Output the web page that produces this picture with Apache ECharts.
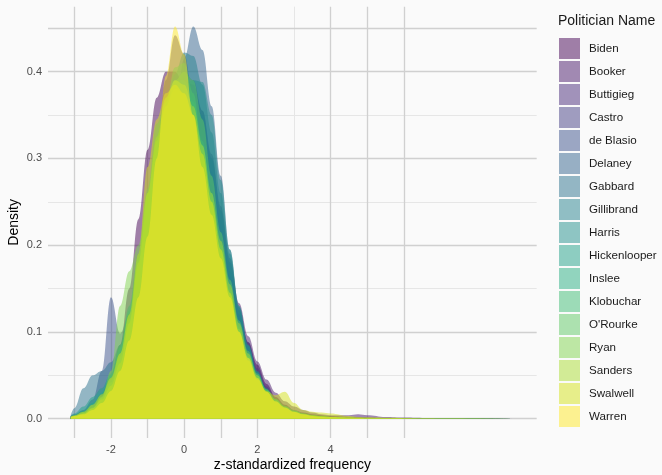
<!DOCTYPE html>
<html>
<head>
<meta charset="utf-8">
<script src="https://cdn.jsdelivr.net/npm/echarts@6/dist/echarts.min.js"></script>
<style>
html,body{margin:0;padding:0;background:#fafafa;}
#chart{width:662px;height:475px;}
</style>
</head>
<body>
<div id="chart"></div>
<script>
// Shared x positions (z-standardized frequency)
const xs = [-3.1, -3.0, -2.75, -2.5, -2.25, -2.0, -1.75, -1.5, -1.25, -1.0, -0.75, -0.5, -0.25, 0.0, 0.25, 0.5, 0.75, 1.0, 1.25, 1.5, 1.75, 2.0, 2.25, 2.5, 2.75, 3.0, 3.25, 3.5, 3.75, 4.0, 4.5, 4.75, 5.0, 5.5, 6.0, 6.5, 7.0, 8.0, 9.0];

const politicians = ["Biden", "Booker", "Buttigieg", "Castro", "de Blasio", "Delaney", "Gabbard", "Gillibrand", "Harris", "Hickenlooper", "Inslee", "Klobuchar", "O'Rourke", "Ryan", "Sanders", "Swalwell", "Warren"];

const colors = ["#440154", "#481769", "#472A7A", "#433D84", "#3B528B", "#33638D", "#2C728E", "#26828E", "#21908C", "#1F9F88", "#27AD81", "#3DBC74", "#5DC863", "#80D34D", "#AADC32", "#D4E21A", "#FDE725"];

// Density values per politician, aligned with xs
const biden      = [0.003, 0.004, 0.008, 0.015, 0.028, 0.050, 0.085, 0.150, 0.230, 0.310, 0.370, 0.400, 0.400, 0.385, 0.360, 0.320, 0.270, 0.215, 0.165, 0.120, 0.088, 0.062, 0.040, 0.025, 0.016, 0.010, 0.007, 0.005, 0.004, 0.003, 0.002, 0.0015, 0.001, 0.0006, 0.0004, 0.0003, 0.0002, 0.0001, 0.0001];
const booker     = [0.002, 0.003, 0.006, 0.012, 0.022, 0.040, 0.068, 0.110, 0.165, 0.230, 0.295, 0.345, 0.375, 0.390, 0.385, 0.355, 0.305, 0.245, 0.185, 0.133, 0.095, 0.066, 0.045, 0.030, 0.020, 0.014, 0.010, 0.007, 0.005, 0.004, 0.004, 0.005, 0.004, 0.002, 0.0012, 0.0008, 0.0006, 0.0005, 0.0004];
const buttigieg  = [0.002, 0.003, 0.005, 0.010, 0.018, 0.032, 0.055, 0.095, 0.150, 0.220, 0.310, 0.390, 0.442, 0.420, 0.370, 0.315, 0.260, 0.205, 0.155, 0.110, 0.075, 0.050, 0.033, 0.021, 0.013, 0.008, 0.005, 0.003, 0.002, 0.0015, 0.001, 0.0008, 0.0006, 0.0004, 0.0003, 0.0002, 0.0001, 0.0001, 0.0001];
const castro     = [0.002, 0.003, 0.007, 0.014, 0.026, 0.045, 0.075, 0.118, 0.175, 0.240, 0.305, 0.355, 0.390, 0.400, 0.390, 0.355, 0.300, 0.240, 0.180, 0.128, 0.088, 0.058, 0.037, 0.023, 0.014, 0.009, 0.006, 0.004, 0.003, 0.002, 0.001, 0.0008, 0.0006, 0.0004, 0.0003, 0.0002, 0.0001, 0.0001, 0.0001];
const deBlasio   = [0.003, 0.005, 0.010, 0.022, 0.055, 0.140, 0.098, 0.120, 0.180, 0.245, 0.305, 0.350, 0.380, 0.385, 0.370, 0.335, 0.285, 0.228, 0.170, 0.120, 0.082, 0.054, 0.034, 0.021, 0.013, 0.008, 0.005, 0.003, 0.002, 0.0015, 0.001, 0.0008, 0.0006, 0.0004, 0.0003, 0.0002, 0.0001, 0.0001, 0.0001];
const delaney    = [0.002, 0.003, 0.005, 0.009, 0.015, 0.025, 0.040, 0.065, 0.100, 0.150, 0.210, 0.280, 0.350, 0.415, 0.452, 0.425, 0.360, 0.280, 0.195, 0.125, 0.080, 0.050, 0.030, 0.018, 0.011, 0.007, 0.004, 0.003, 0.002, 0.0015, 0.001, 0.0008, 0.0006, 0.0004, 0.0003, 0.0002, 0.0001, 0.0001, 0.0001];
const gabbard    = [0.004, 0.012, 0.035, 0.050, 0.055, 0.065, 0.085, 0.120, 0.175, 0.240, 0.300, 0.345, 0.370, 0.380, 0.375, 0.350, 0.300, 0.240, 0.180, 0.125, 0.083, 0.053, 0.033, 0.020, 0.012, 0.007, 0.004, 0.003, 0.002, 0.001, 0.0008, 0.0006, 0.0004, 0.0003, 0.0002, 0.0001, 0.0001, 0.0001, 0.0001];
const gillibrand = [0.002, 0.003, 0.006, 0.012, 0.022, 0.038, 0.062, 0.100, 0.155, 0.220, 0.290, 0.350, 0.397, 0.422, 0.418, 0.385, 0.330, 0.260, 0.190, 0.130, 0.085, 0.054, 0.033, 0.020, 0.012, 0.007, 0.004, 0.003, 0.002, 0.001, 0.0008, 0.0006, 0.0004, 0.0003, 0.0002, 0.0001, 0.0001, 0.0001, 0.0001];
const harris     = [0.002, 0.003, 0.006, 0.011, 0.020, 0.035, 0.058, 0.092, 0.140, 0.200, 0.265, 0.320, 0.360, 0.385, 0.390, 0.388, 0.350, 0.275, 0.195, 0.130, 0.085, 0.055, 0.035, 0.022, 0.013, 0.008, 0.005, 0.003, 0.002, 0.001, 0.0008, 0.0006, 0.0004, 0.0003, 0.0002, 0.0001, 0.0001, 0.0001, 0.0001];
const hickenlooper = [0.003, 0.006, 0.014, 0.025, 0.035, 0.052, 0.085, 0.130, 0.190, 0.260, 0.325, 0.370, 0.390, 0.385, 0.360, 0.315, 0.255, 0.200, 0.150, 0.108, 0.075, 0.050, 0.033, 0.021, 0.014, 0.009, 0.006, 0.004, 0.003, 0.002, 0.001, 0.0008, 0.0006, 0.0004, 0.0003, 0.0002, 0.0001, 0.0001, 0.0001];
const inslee     = [0.002, 0.004, 0.009, 0.018, 0.030, 0.050, 0.082, 0.125, 0.185, 0.255, 0.320, 0.365, 0.390, 0.390, 0.365, 0.320, 0.260, 0.200, 0.148, 0.105, 0.072, 0.048, 0.031, 0.019, 0.012, 0.008, 0.005, 0.003, 0.002, 0.0015, 0.001, 0.0009, 0.0008, 0.0006, 0.0005, 0.0003, 0.0002, 0.0001, 0.0001];
const klobuchar  = [0.002, 0.004, 0.008, 0.015, 0.026, 0.045, 0.075, 0.120, 0.185, 0.265, 0.340, 0.365, 0.405, 0.410, 0.375, 0.315, 0.250, 0.190, 0.142, 0.103, 0.072, 0.050, 0.034, 0.023, 0.015, 0.010, 0.006, 0.004, 0.003, 0.002, 0.001, 0.0008, 0.0006, 0.0004, 0.0003, 0.0002, 0.0001, 0.0001, 0.0001];
const orourke    = [0.002, 0.003, 0.007, 0.013, 0.024, 0.042, 0.072, 0.115, 0.175, 0.245, 0.310, 0.360, 0.390, 0.400, 0.390, 0.345, 0.280, 0.215, 0.160, 0.113, 0.078, 0.052, 0.034, 0.022, 0.014, 0.009, 0.006, 0.004, 0.003, 0.002, 0.001, 0.0008, 0.0006, 0.0004, 0.0003, 0.0002, 0.0001, 0.0001, 0.0001];
const ryan       = [0.002, 0.003, 0.006, 0.012, 0.025, 0.055, 0.130, 0.170, 0.200, 0.260, 0.320, 0.360, 0.380, 0.375, 0.350, 0.305, 0.250, 0.195, 0.145, 0.103, 0.070, 0.047, 0.031, 0.020, 0.013, 0.008, 0.005, 0.003, 0.002, 0.0015, 0.001, 0.0008, 0.0006, 0.0004, 0.0003, 0.0002, 0.0001, 0.0001, 0.0001];
const sanders    = [0.002, 0.003, 0.006, 0.012, 0.022, 0.038, 0.064, 0.110, 0.180, 0.260, 0.325, 0.370, 0.390, 0.385, 0.360, 0.315, 0.260, 0.205, 0.155, 0.110, 0.075, 0.050, 0.031, 0.019, 0.012, 0.008, 0.005, 0.004, 0.003, 0.002, 0.0015, 0.0012, 0.001, 0.0008, 0.0008, 0.0006, 0.0004, 0.0002, 0.0001];
const swalwell   = [0.002, 0.004, 0.008, 0.016, 0.028, 0.047, 0.075, 0.120, 0.190, 0.290, 0.345, 0.375, 0.385, 0.375, 0.350, 0.305, 0.250, 0.195, 0.145, 0.100, 0.067, 0.045, 0.032, 0.027, 0.031, 0.018, 0.010, 0.008, 0.007, 0.006, 0.003, 0.002, 0.0015, 0.001, 0.0008, 0.0005, 0.0003, 0.0002, 0.0001];
const warren     = [0.002, 0.003, 0.005, 0.010, 0.018, 0.032, 0.055, 0.090, 0.140, 0.210, 0.300, 0.395, 0.452, 0.420, 0.350, 0.290, 0.235, 0.185, 0.140, 0.100, 0.070, 0.047, 0.031, 0.020, 0.013, 0.008, 0.005, 0.003, 0.002, 0.0015, 0.001, 0.0008, 0.0006, 0.0004, 0.0003, 0.0002, 0.0001, 0.0001, 0.0001];

const densities = [biden, booker, buttigieg, castro, deBlasio, delaney, gabbard, gillibrand, harris, hickenlooper, inslee, klobuchar, orourke, ryan, sanders, swalwell, warren];

// Axis ticks / grid
const xLabelTicks = [-2, 0, 2, 4];
const xMajorGrid = [-3, -2, -1, 0, 1, 2, 4, 5, 6];
const xMinorGrid = [3];
const yLabelTicks = [0, 0.1, 0.2, 0.3, 0.4];
const yMajorGrid = [0, 0.1, 0.2, 0.3, 0.4, 0.45];
const yMinorGrid = [0.05, 0.15, 0.25, 0.35];

const X_MIN = -3.72, X_MAX = 9.63, Y_MIN = -0.0223, Y_MAX = 0.4749;

function rgba(hex, a) {
  const n = parseInt(hex.slice(1), 16);
  return 'rgba(' + ((n >> 16) & 255) + ',' + ((n >> 8) & 255) + ',' + (n & 255) + ',' + a + ')';
}

const FONT = '"Liberation Sans", Arial, Helvetica, sans-serif';

const series = politicians.map((name, i) => ({
  name: name,
  type: 'line',
  xAxisIndex: 0,
  yAxisIndex: 0,
  data: xs.map((x, j) => [x, densities[i][j]]),
  smooth: 0.4,
  smoothMonotone: 'x',
  showSymbol: false,
  symbol: 'none',
  lineStyle: { width: 0, opacity: 0 },
  itemStyle: { color: colors[i] },
  areaStyle: { color: colors[i], opacity: 0.5 },
  silent: true,
  z: 2
}));

const chart = echarts.init(document.getElementById('chart'), null, { renderer: 'canvas' });
chart.setOption({
  animation: false,
  backgroundColor: '#fafafa',
  textStyle: { fontFamily: FONT },
  title: {
    text: 'Politician Name',
    left: 558, top: 14, padding: 0,
    textStyle: { fontSize: 14, fontWeight: 'normal', color: '#1a1a1a', fontFamily: FONT }
  },
  legend: {
    orient: 'vertical',
    left: 559, top: 38, padding: 0,
    itemWidth: 21, itemHeight: 21, itemGap: 2,
    selectedMode: false,
    icon: 'rect',
    textStyle: { fontSize: 11.6, color: '#1a1a1a', fontFamily: FONT, padding: [0, 0, 0, 4] },
    data: politicians.map((name, i) => ({
      name: name, icon: 'rect',
      itemStyle: { color: rgba(colors[i], 0.5), borderWidth: 0 },
      lineStyle: { width: 0, opacity: 0 }
    }))
  },
  grid: { left: 48, right: 125.3, top: 6.7, bottom: 37, containLabel: false, outerBoundsMode: 'none' },
  xAxis: [
    {
      type: 'value', min: X_MIN, max: X_MAX,
      name: 'z-standardized frequency', nameLocation: 'middle', nameGap: 20, nameMoveOverlap: false,
      nameTextStyle: { fontSize: 14, color: '#000', fontFamily: FONT },
      axisLine: { show: false },
      axisTick: { show: false, customValues: xMajorGrid },
      axisLabel: { customValues: xLabelTicks, fontSize: 11, color: '#4d4d4d', margin: 6, fontFamily: FONT,
        formatter: v => String(v) },
      splitLine: { show: true, lineStyle: { color: '#d0d0d0', width: 1.3 } },
      z: 1
    },
    {
      type: 'value', min: X_MIN, max: X_MAX, position: 'bottom',
      axisLine: { show: false },
      axisTick: { show: false, customValues: xMinorGrid },
      axisLabel: { show: false },
      splitLine: { show: true, lineStyle: { color: '#e6e6e6', width: 1 } },
      z: 0
    }
  ],
  yAxis: [
    {
      type: 'value', min: Y_MIN, max: Y_MAX,
      name: 'Density', nameLocation: 'middle', nameGap: 27, nameMoveOverlap: false,
      nameTextStyle: { fontSize: 14, color: '#000', fontFamily: FONT },
      axisLine: { show: false },
      axisTick: { show: false, customValues: yMajorGrid },
      axisLabel: { customValues: yLabelTicks, fontSize: 11, color: '#4d4d4d', margin: 6, fontFamily: FONT,
        formatter: v => v.toFixed(1) },
      splitLine: { show: true, lineStyle: { color: '#d0d0d0', width: 1.3 } },
      z: 1
    },
    {
      type: 'value', min: Y_MIN, max: Y_MAX, position: 'left',
      axisLine: { show: false },
      axisTick: { show: false, customValues: yMinorGrid },
      axisLabel: { show: false },
      splitLine: { show: true, lineStyle: { color: '#e6e6e6', width: 1 } },
      z: 0
    }
  ],
  series: series
});
</script>
</body>
</html>
